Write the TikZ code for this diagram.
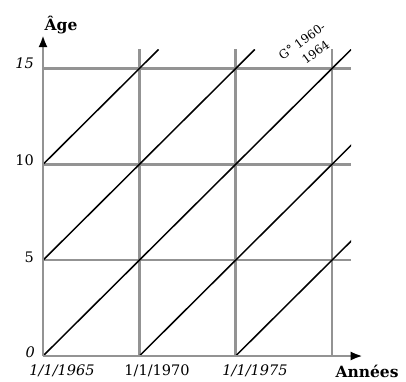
\documentclass[tikz,border=0pt]{standalone}
\usepackage{fontspec}
\setmainfont{DejaVu Serif}
\usetikzlibrary{arrows.meta}
\begin{document}
\begin{tikzpicture}[x=1pt,y=-1pt,
  gridline/.style={draw=gray!85, line width=2.4pt},
  axisline/.style={draw=gray!85, line width=2.4pt, -{Latex[length=12pt,width=9pt,black]}},
  diag/.style={draw=black, line width=1.5pt},
  lab/.style={font=\fontsize{14.5}{14.5}\selectfont, inner sep=0pt},
  ttl/.style={font=\bfseries\fontsize{15.5}{15.5}\selectfont, inner sep=0pt}]
\useasboundingbox (0,0) rectangle (406,381);
\begin{scope}[shift={(43,356)}, x=19.26pt, y=19.16pt]
  % vertical grid lines
  \foreach \i in {5,10,15} \draw[gridline] (\i,0) -- (\i,16);
  % horizontal grid lines
  \foreach \j in {5,10,15} \draw[gridline] (0,\j) -- (16,\j);
  % diagonals (lexis lines)
  \begin{scope}
    \clip (0,0) rectangle (16,16);
    \foreach \s in {-10,-5,0,5,10} \draw[diag] (\s,0) -- (\s+16,16);
  \end{scope}
  % axes
  \coordinate (O) at (0,0);
  \coordinate (Xend) at (16.6,0);
  \coordinate (Yend) at (0,16.75);
  \draw[axisline] (O) -- (Xend);
  \draw[axisline] (O) -- (Yend);
\end{scope}
% labels
\node[lab, anchor=east] (y15) at (34,63) {\itshape 15};
\node[lab, anchor=east] (y10) at (34,160) {10};
\node[lab, anchor=east] (y5) at (34,257) {5};
\node[lab, anchor=east] (y0) at (35,352) {\itshape 0};
\node[lab] (x65) at (62,371) {\itshape 1/1/1965};
\node[lab] (x70) at (157,371) {1/1/1970};
\node[lab] (x75) at (255,371) {\itshape 1/1/1975};
\node[ttl] (age) at (61,25) {Âge};
\node[ttl] (ann) at (367,371) {Années};
\node[lab, rotate=36, align=center, font=\fontsize{12}{17}\selectfont] (gen) at (307,48) {G° 1960-\\\hspace*{9pt}1964};
\end{tikzpicture}
\end{document}
